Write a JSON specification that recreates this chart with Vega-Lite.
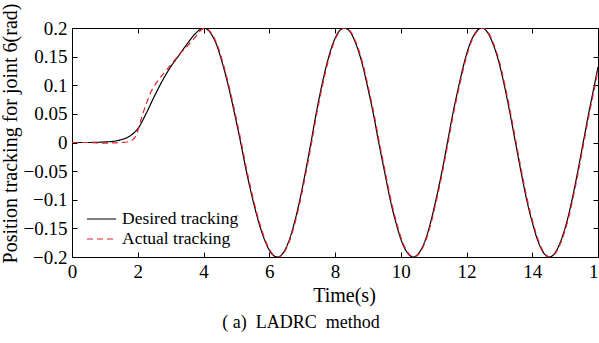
{
  "$schema": "https://vega.github.io/schema/vega-lite/v6.json",
  "width": 526,
  "height": 229,
  "autosize": {"type": "none"},
  "padding": {"left": 72, "top": 28, "right": 1, "bottom": 86},
  "background": "white",
  "config": {
    "view": {"stroke": "black", "strokeWidth": 1},
    "font": "Liberation Serif",
    "axis": {"grid": false, "domainColor": "black", "tickColor": "black", "labelColor": "black", "titleColor": "black", "labelFont": "Liberation Serif", "titleFont": "Liberation Serif"}
  },
  "title": {"text": "(\u00a0a)\u00a0\u00a0LADRC\u00a0\u00a0method", "orient": "bottom", "anchor": "middle", "fontSize": 18, "font": "Liberation Serif", "fontWeight": "normal", "color": "black", "dx": -34, "offset": 9},
  "datasets": {
    "d": [
      {"t": 0, "v": 0, "s": "Desired tracking"},
      {"t": 0.5, "v": 0, "s": "Desired tracking"},
      {"t": 1.0, "v": 0.001, "s": "Desired tracking"},
      {"t": 1.25, "v": 0.002, "s": "Desired tracking"},
      {"t": 1.5, "v": 0.005, "s": "Desired tracking"},
      {"t": 1.75, "v": 0.011, "s": "Desired tracking"},
      {"t": 2.0, "v": 0.024, "s": "Desired tracking"},
      {"t": 2.25, "v": 0.05, "s": "Desired tracking"},
      {"t": 2.5, "v": 0.08, "s": "Desired tracking"},
      {"t": 2.75, "v": 0.108, "s": "Desired tracking"},
      {"t": 3.0, "v": 0.132, "s": "Desired tracking"},
      {"t": 3.25, "v": 0.152, "s": "Desired tracking"},
      {"t": 3.5, "v": 0.172, "s": "Desired tracking"},
      {"t": 3.75, "v": 0.19, "s": "Desired tracking"},
      {"t": 4.0, "v": 0.2, "s": "Desired tracking"},
      {"t": 4.19, "v": 0.1932, "s": "Desired tracking"},
      {"t": 4.38, "v": 0.1732, "s": "Desired tracking"},
      {"t": 4.56, "v": 0.1414, "s": "Desired tracking"},
      {"t": 4.75, "v": 0.1, "s": "Desired tracking"},
      {"t": 4.94, "v": 0.0518, "s": "Desired tracking"},
      {"t": 5.13, "v": 0, "s": "Desired tracking"},
      {"t": 5.31, "v": -0.0518, "s": "Desired tracking"},
      {"t": 5.5, "v": -0.1, "s": "Desired tracking"},
      {"t": 5.69, "v": -0.1414, "s": "Desired tracking"},
      {"t": 5.88, "v": -0.1732, "s": "Desired tracking"},
      {"t": 6.06, "v": -0.1932, "s": "Desired tracking"},
      {"t": 6.25, "v": -0.2, "s": "Desired tracking"},
      {"t": 6.42, "v": -0.1932, "s": "Desired tracking"},
      {"t": 6.59, "v": -0.1732, "s": "Desired tracking"},
      {"t": 6.76, "v": -0.1414, "s": "Desired tracking"},
      {"t": 6.93, "v": -0.1, "s": "Desired tracking"},
      {"t": 7.1, "v": -0.0518, "s": "Desired tracking"},
      {"t": 7.27, "v": 0, "s": "Desired tracking"},
      {"t": 7.43, "v": 0.0518, "s": "Desired tracking"},
      {"t": 7.6, "v": 0.1, "s": "Desired tracking"},
      {"t": 7.77, "v": 0.1414, "s": "Desired tracking"},
      {"t": 7.94, "v": 0.1732, "s": "Desired tracking"},
      {"t": 8.11, "v": 0.1932, "s": "Desired tracking"},
      {"t": 8.28, "v": 0.2, "s": "Desired tracking"},
      {"t": 8.46, "v": 0.1932, "s": "Desired tracking"},
      {"t": 8.63, "v": 0.1732, "s": "Desired tracking"},
      {"t": 8.81, "v": 0.1414, "s": "Desired tracking"},
      {"t": 8.98, "v": 0.1, "s": "Desired tracking"},
      {"t": 9.16, "v": 0.0518, "s": "Desired tracking"},
      {"t": 9.33, "v": 0, "s": "Desired tracking"},
      {"t": 9.51, "v": -0.0518, "s": "Desired tracking"},
      {"t": 9.68, "v": -0.1, "s": "Desired tracking"},
      {"t": 9.86, "v": -0.1414, "s": "Desired tracking"},
      {"t": 10.03, "v": -0.1732, "s": "Desired tracking"},
      {"t": 10.21, "v": -0.1932, "s": "Desired tracking"},
      {"t": 10.38, "v": -0.2, "s": "Desired tracking"},
      {"t": 10.55, "v": -0.1932, "s": "Desired tracking"},
      {"t": 10.73, "v": -0.1732, "s": "Desired tracking"},
      {"t": 10.9, "v": -0.1414, "s": "Desired tracking"},
      {"t": 11.07, "v": -0.1, "s": "Desired tracking"},
      {"t": 11.25, "v": -0.0518, "s": "Desired tracking"},
      {"t": 11.42, "v": 0, "s": "Desired tracking"},
      {"t": 11.59, "v": 0.0518, "s": "Desired tracking"},
      {"t": 11.77, "v": 0.1, "s": "Desired tracking"},
      {"t": 11.94, "v": 0.1414, "s": "Desired tracking"},
      {"t": 12.11, "v": 0.1732, "s": "Desired tracking"},
      {"t": 12.29, "v": 0.1932, "s": "Desired tracking"},
      {"t": 12.46, "v": 0.2, "s": "Desired tracking"},
      {"t": 12.63, "v": 0.1932, "s": "Desired tracking"},
      {"t": 12.8, "v": 0.1732, "s": "Desired tracking"},
      {"t": 12.98, "v": 0.1414, "s": "Desired tracking"},
      {"t": 13.15, "v": 0.1, "s": "Desired tracking"},
      {"t": 13.32, "v": 0.0518, "s": "Desired tracking"},
      {"t": 13.49, "v": 0, "s": "Desired tracking"},
      {"t": 13.66, "v": -0.0518, "s": "Desired tracking"},
      {"t": 13.83, "v": -0.1, "s": "Desired tracking"},
      {"t": 14.01, "v": -0.1414, "s": "Desired tracking"},
      {"t": 14.18, "v": -0.1732, "s": "Desired tracking"},
      {"t": 14.35, "v": -0.1932, "s": "Desired tracking"},
      {"t": 14.52, "v": -0.2, "s": "Desired tracking"},
      {"t": 14.69, "v": -0.1932, "s": "Desired tracking"},
      {"t": 14.86, "v": -0.1732, "s": "Desired tracking"},
      {"t": 15.04, "v": -0.1414, "s": "Desired tracking"},
      {"t": 15.21, "v": -0.1, "s": "Desired tracking"},
      {"t": 15.38, "v": -0.0518, "s": "Desired tracking"},
      {"t": 15.55, "v": 0, "s": "Desired tracking"},
      {"t": 15.72, "v": 0.0518, "s": "Desired tracking"},
      {"t": 15.89, "v": 0.1, "s": "Desired tracking"},
      {"t": 16.0, "v": 0.132, "s": "Desired tracking"},

      {"t": 0, "v": 0, "s": "Actual tracking"},
      {"t": 0.5, "v": 0, "s": "Actual tracking"},
      {"t": 1.0, "v": -0.001, "s": "Actual tracking"},
      {"t": 1.5, "v": 0, "s": "Actual tracking"},
      {"t": 1.75, "v": 0.002, "s": "Actual tracking"},
      {"t": 1.9, "v": 0.008, "s": "Actual tracking"},
      {"t": 2.0, "v": 0.02, "s": "Actual tracking"},
      {"t": 2.12, "v": 0.044, "s": "Actual tracking"},
      {"t": 2.25, "v": 0.066, "s": "Actual tracking"},
      {"t": 2.4, "v": 0.088, "s": "Actual tracking"},
      {"t": 2.55, "v": 0.103, "s": "Actual tracking"},
      {"t": 2.75, "v": 0.118, "s": "Actual tracking"},
      {"t": 3.0, "v": 0.135, "s": "Actual tracking"},
      {"t": 3.25, "v": 0.153, "s": "Actual tracking"},
      {"t": 3.5, "v": 0.168, "s": "Actual tracking"},
      {"t": 3.75, "v": 0.184, "s": "Actual tracking"},
      {"t": 3.9, "v": 0.195, "s": "Actual tracking"},
      {"t": 4.03, "v": 0.2, "s": "Actual tracking"},
      {"t": 4.21, "v": 0.1932, "s": "Actual tracking"},
      {"t": 4.4, "v": 0.1732, "s": "Actual tracking"},
      {"t": 4.58, "v": 0.1414, "s": "Actual tracking"},
      {"t": 4.77, "v": 0.1, "s": "Actual tracking"},
      {"t": 4.96, "v": 0.0518, "s": "Actual tracking"},
      {"t": 5.15, "v": 0, "s": "Actual tracking"},
      {"t": 5.33, "v": -0.0518, "s": "Actual tracking"},
      {"t": 5.52, "v": -0.1, "s": "Actual tracking"},
      {"t": 5.71, "v": -0.1414, "s": "Actual tracking"},
      {"t": 5.9, "v": -0.1732, "s": "Actual tracking"},
      {"t": 6.08, "v": -0.1932, "s": "Actual tracking"},
      {"t": 6.27, "v": -0.2, "s": "Actual tracking"},
      {"t": 6.44, "v": -0.1932, "s": "Actual tracking"},
      {"t": 6.61, "v": -0.1732, "s": "Actual tracking"},
      {"t": 6.78, "v": -0.1414, "s": "Actual tracking"},
      {"t": 6.95, "v": -0.1, "s": "Actual tracking"},
      {"t": 7.12, "v": -0.0518, "s": "Actual tracking"},
      {"t": 7.29, "v": 0, "s": "Actual tracking"},
      {"t": 7.45, "v": 0.0518, "s": "Actual tracking"},
      {"t": 7.62, "v": 0.1, "s": "Actual tracking"},
      {"t": 7.79, "v": 0.1414, "s": "Actual tracking"},
      {"t": 7.96, "v": 0.1732, "s": "Actual tracking"},
      {"t": 8.13, "v": 0.1932, "s": "Actual tracking"},
      {"t": 8.3, "v": 0.2, "s": "Actual tracking"},
      {"t": 8.48, "v": 0.1932, "s": "Actual tracking"},
      {"t": 8.65, "v": 0.1732, "s": "Actual tracking"},
      {"t": 8.83, "v": 0.1414, "s": "Actual tracking"},
      {"t": 9.0, "v": 0.1, "s": "Actual tracking"},
      {"t": 9.18, "v": 0.0518, "s": "Actual tracking"},
      {"t": 9.35, "v": 0, "s": "Actual tracking"},
      {"t": 9.53, "v": -0.0518, "s": "Actual tracking"},
      {"t": 9.7, "v": -0.1, "s": "Actual tracking"},
      {"t": 9.88, "v": -0.1414, "s": "Actual tracking"},
      {"t": 10.05, "v": -0.1732, "s": "Actual tracking"},
      {"t": 10.23, "v": -0.1932, "s": "Actual tracking"},
      {"t": 10.4, "v": -0.2, "s": "Actual tracking"},
      {"t": 10.57, "v": -0.1932, "s": "Actual tracking"},
      {"t": 10.75, "v": -0.1732, "s": "Actual tracking"},
      {"t": 10.92, "v": -0.1414, "s": "Actual tracking"},
      {"t": 11.09, "v": -0.1, "s": "Actual tracking"},
      {"t": 11.27, "v": -0.0518, "s": "Actual tracking"},
      {"t": 11.44, "v": 0, "s": "Actual tracking"},
      {"t": 11.61, "v": 0.0518, "s": "Actual tracking"},
      {"t": 11.79, "v": 0.1, "s": "Actual tracking"},
      {"t": 11.96, "v": 0.1414, "s": "Actual tracking"},
      {"t": 12.13, "v": 0.1732, "s": "Actual tracking"},
      {"t": 12.31, "v": 0.1932, "s": "Actual tracking"},
      {"t": 12.48, "v": 0.2, "s": "Actual tracking"},
      {"t": 12.65, "v": 0.1932, "s": "Actual tracking"},
      {"t": 12.82, "v": 0.1732, "s": "Actual tracking"},
      {"t": 13.0, "v": 0.1414, "s": "Actual tracking"},
      {"t": 13.17, "v": 0.1, "s": "Actual tracking"},
      {"t": 13.34, "v": 0.0518, "s": "Actual tracking"},
      {"t": 13.51, "v": 0, "s": "Actual tracking"},
      {"t": 13.68, "v": -0.0518, "s": "Actual tracking"},
      {"t": 13.85, "v": -0.1, "s": "Actual tracking"},
      {"t": 14.03, "v": -0.1414, "s": "Actual tracking"},
      {"t": 14.2, "v": -0.1732, "s": "Actual tracking"},
      {"t": 14.37, "v": -0.1932, "s": "Actual tracking"},
      {"t": 14.54, "v": -0.2, "s": "Actual tracking"},
      {"t": 14.71, "v": -0.1932, "s": "Actual tracking"},
      {"t": 14.88, "v": -0.1732, "s": "Actual tracking"},
      {"t": 15.06, "v": -0.1414, "s": "Actual tracking"},
      {"t": 15.23, "v": -0.1, "s": "Actual tracking"},
      {"t": 15.4, "v": -0.0518, "s": "Actual tracking"},
      {"t": 15.57, "v": 0, "s": "Actual tracking"},
      {"t": 15.74, "v": 0.0518, "s": "Actual tracking"},
      {"t": 15.91, "v": 0.1, "s": "Actual tracking"},
      {"t": 16.0, "v": 0.128, "s": "Actual tracking"}
    ]
  },
  "data": {"name": "d"},
  "resolve": {"axis": {"x": "independent", "y": "independent"}},
  "layer": [
    {
      "mark": {"type": "line", "strokeWidth": 1.2, "clip": true, "interpolate": "monotone"},
      "encoding": {
        "x": {"field": "t", "type": "quantitative", "scale": {"domain": [0, 16], "nice": false},
          "axis": {"title": "Time(s)", "titleFontSize": 20, "titleFontWeight": "normal", "titlePadding": 4, "titleX": 272, "labelFontSize": 19, "values": [0, 2, 4, 6, 8, 10, 12, 14, 16], "tickSize": -5, "labelPadding": 10, "labelFlush": false, "labelOverlap": false}},
        "y": {"field": "v", "type": "quantitative", "scale": {"domain": [-0.2, 0.2], "nice": false, "zero": false},
          "axis": {"title": "Position tracking for joint 6(rad)", "titleFontSize": 20, "titleFontWeight": "normal", "titleX": -56, "titleY": 105, "titleBaseline": "alphabetic", "titleAlign": "center", "titleAngle": -90, "labelFontSize": 19, "values": [-0.2, -0.15, -0.1, -0.05, 0, 0.05, 0.1, 0.15, 0.2], "format": "~g", "tickSize": -5, "labelPadding": 10, "labelFlush": false, "labelOverlap": false}},
        "color": {"field": "s", "type": "nominal", "scale": {"domain": ["Desired tracking", "Actual tracking"], "range": ["black", "#e8202a"]},
          "legend": {"title": null, "orient": "none", "legendX": 14, "legendY": 182, "symbolType": "stroke", "symbolSize": 841, "symbolStrokeWidth": 1.2, "labelFontSize": 17.5, "labelFont": "Liberation Serif", "labelColor": "black", "clipHeight": 18, "rowPadding": 2, "labelOffset": 5}},
        "strokeDash": {"field": "s", "type": "nominal", "scale": {"domain": ["Desired tracking", "Actual tracking"], "range": [[1, 0], [6, 4]]}, "legend": null}
      }
    },
    {
      "mark": {"type": "line", "opacity": 0},
      "encoding": {
        "x": {"field": "t", "type": "quantitative", "scale": {"domain": [0, 16], "nice": false},
          "axis": {"orient": "top", "title": null, "labels": false, "values": [0, 2, 4, 6, 8, 10, 12, 14, 16], "tickSize": -5}},
        "y": {"field": "v", "type": "quantitative", "scale": {"domain": [-0.2, 0.2], "nice": false, "zero": false},
          "axis": {"orient": "right", "title": null, "labels": false, "values": [-0.2, -0.15, -0.1, -0.05, 0, 0.05, 0.1, 0.15, 0.2], "tickSize": -5}}
      }
    }
  ]
}
